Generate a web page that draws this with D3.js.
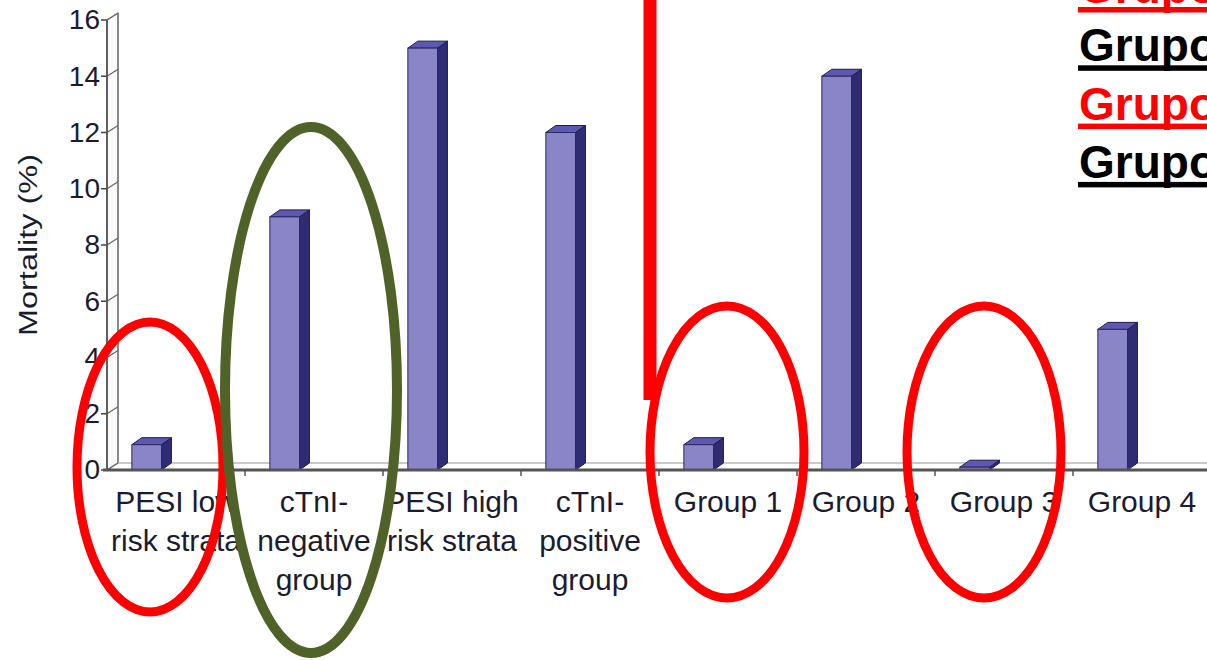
<!DOCTYPE html>
<html>
<head>
<meta charset="utf-8">
<script src="https://cdn.jsdelivr.net/npm/d3@7"></script>
<style>
  html, body { margin: 0; padding: 0; background: #fff; overflow: hidden; }
  text { font-family: "Liberation Sans", Arial, sans-serif; }
</style>
</head>
<body>
<svg id="chart" width="1207" height="660"></svg>
<script>
// Mortality (%) by risk stratum / group
const categories = [
  "PESI low\nrisk strata",
  "cTnI-\nnegative\ngroup",
  "PESI high\nrisk strata",
  "cTnI-\npositive\ngroup",
  "Group 1",
  "Group 2",
  "Group 3",
  "Group 4"
];
const mortality = [0.9, 9, 15, 12, 0.9, 14, 0.1, 5];
const yTicks = [0, 2, 4, 6, 8, 10, 12, 14, 16];

// Side legend (Spanish group names)
const legendLabels = ["Grupo 1", "Grupo 2", "Grupo 3", "Grupo 4"];
const legendColors = ["#ff0000", "#000000", "#ff0000", "#000000"];

// Highlighted categories
const redHighlights = ["PESI low\nrisk strata", "Group 1", "Group 3"];
const greenHighlights = ["cTnI-\nnegative\ngroup"];

const svg = d3.select("#chart");
const W = 1207, H = 660;

const x = d3.scaleBand().domain(categories).range([107, 1211]).padding(0);
const y = d3.scaleLinear().domain([0, 16]).range([470, 20]);

// 3-D depth offset
const dx = 11, dy = -7;

const chart = svg.append("g").attr("class", "chart");

// back wall
const wx = x.range()[0];
chart.append("path")
  .attr("d", `M${wx},${y(0)} L${wx},${y(16)} L${wx + dx},${y(16) + dy} L${wx + dx},${y(0) + dy} Z`)
  .attr("fill", "#fafafa").attr("stroke", "#9a9a9a").attr("stroke-width", 1.2);
chart.append("line")
  .attr("x1", wx + dx).attr("x2", wx + dx)
  .attr("y1", y(0) + dy).attr("y2", y(16) + dy)
  .attr("stroke", "#777").attr("stroke-width", 1.5);

// floor back edge
chart.append("line")
  .attr("x1", wx + dx).attr("x2", W)
  .attr("y1", y(0) + dy).attr("y2", y(0) + dy)
  .attr("stroke", "#b8b8b8").attr("stroke-width", 1.5);

// y ticks on the wall
yTicks.forEach(t => {
  chart.append("line")
    .attr("x1", wx - 6).attr("x2", wx)
    .attr("y1", y(t)).attr("y2", y(t))
    .attr("stroke", "#444").attr("stroke-width", 1.5);
  chart.append("line")
    .attr("x1", wx).attr("x2", wx + dx)
    .attr("y1", y(t)).attr("y2", y(t) + dy)
    .attr("stroke", "#666").attr("stroke-width", 1.2);
});
chart.append("line")
  .attr("x1", wx).attr("x2", wx)
  .attr("y1", y(0)).attr("y2", y(16))
  .attr("stroke", "#555").attr("stroke-width", 1.8);

const yAxis = d3.axisLeft(y).tickValues(yTicks).tickSize(0).tickPadding(7);
const ya = chart.append("g").attr("transform", `translate(${wx},0)`).call(yAxis);
ya.select(".domain").remove();
ya.selectAll("text")
  .attr("font-size", 28)
  .attr("fill", "#1b1b2e")
  .attr("font-family", "'Liberation Sans', Arial, sans-serif");

// y title
chart.append("text")
  .attr("transform", `translate(37,${245}) rotate(-90)`)
  .attr("text-anchor", "middle")
  .attr("font-size", 25)
  .attr("fill", "#1b1b2e")
  .attr("textLength", 182)
  .attr("lengthAdjust", "spacingAndGlyphs")
  .text("Mortality (%)");

// bars
const bw = x.bandwidth();
const frontOff = bw * 0.18, frontW = bw * 0.215;
const bars = chart.append("g").selectAll("g").data(categories).join("g");
bars.each(function (c, i) {
  const g = d3.select(this);
  const x0 = x(c) + frontOff, x1 = x0 + frontW;
  const yt = y(mortality[i]), yb = y(0);
  // side face
  g.append("path")
    .attr("d", `M${x1},${yt} L${x1 + dx * 0.9},${yt + dy} L${x1 + dx * 0.9},${yb + dy} L${x1},${yb} Z`)
    .attr("fill", "#2f2c74").attr("stroke", "#1c1a4e").attr("stroke-width", 1);
  // top face
  g.append("path")
    .attr("d", `M${x0},${yt} L${x0 + dx * 0.9},${yt + dy} L${x1 + dx * 0.9},${yt + dy} L${x1},${yt} Z`)
    .attr("fill", "#5d59b0").attr("stroke", "#1c1a4e").attr("stroke-width", 1);
  // front face
  g.append("rect")
    .attr("x", x0).attr("y", yt)
    .attr("width", frontW).attr("height", yb - yt)
    .attr("fill", "#8a85c6").attr("stroke", "#2a2866").attr("stroke-width", 1);
});

// floor front edge and category ticks
chart.append("line")
  .attr("x1", wx - 4).attr("x2", W)
  .attr("y1", y(0)).attr("y2", y(0))
  .attr("stroke", "#555").attr("stroke-width", 3);
categories.slice(1).forEach(c => {
  chart.append("line")
    .attr("x1", x(c)).attr("x2", x(c))
    .attr("y1", y(0)).attr("y2", y(0) + 6)
    .attr("stroke", "#555").attr("stroke-width", 1.5);
});

// category labels
const lab = chart.append("g").selectAll("text").data(categories).join("text")
  .attr("text-anchor", "middle")
  .attr("font-size", 30)
  .attr("fill", "#1b1b2e");
lab.each(function (c) {
  const t = d3.select(this);
  c.split("\n").forEach((line, k) => {
    t.append("tspan")
      .attr("x", x(c) + bw / 2)
      .attr("y", 512 + k * 39)
      .text(line);
  });
});

// annotations
const ann = svg.append("g").attr("class", "annotations");

// divider between the two studies
ann.append("line")
  .attr("x1", 650).attr("x2", 650)
  .attr("y1", 0).attr("y2", 400)
  .attr("stroke", "#ff0000").attr("stroke-width", 13);

const ellipse = (cx, cy, rx, ry, color, sw) =>
  ann.append("ellipse")
    .attr("cx", cx).attr("cy", cy).attr("rx", rx).attr("ry", ry)
    .attr("fill", "none").attr("stroke", color).attr("stroke-width", sw);

ellipse(x(redHighlights[0]) + 43, 467, 73, 145, "#ff0000", 9);
ellipse(x(greenHighlights[0]) + 66, 390, 86, 263, "#4f6228", 10);
ellipse(x(redHighlights[1]) + 68, 452, 77, 146, "#ff0000", 9);
ellipse(x(redHighlights[2]) + 49, 452, 77, 146, "#ff0000", 9);

// legend text, partly cut by the right edge
const leg = svg.append("g").attr("class", "legend");
legendLabels.forEach((s, i) => {
  const ul = 7 + i * 58.3;
  leg.append("text")
    .attr("x", 1079).attr("y", ul - 4)
    .attr("font-size", 46).attr("font-weight", "bold")
    .attr("fill", legendColors[i])
    .text(s);
  leg.append("rect")
    .attr("x", 1078).attr("y", ul)
    .attr("width", W - 1078).attr("height", 5.5)
    .attr("fill", legendColors[i]);
});
</script>
</body>
</html>
